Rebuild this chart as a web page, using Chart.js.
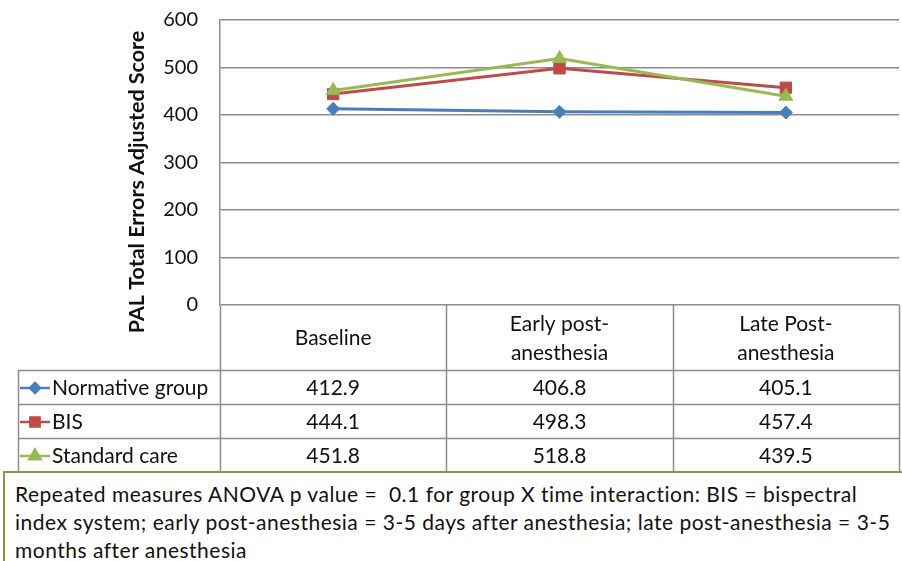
<!DOCTYPE html>
<html>
<head>
<meta charset="utf-8">
<script src="https://cdn.jsdelivr.net/npm/chart.js@4/dist/chart.umd.min.js"></script>
<style>
  html, body { margin: 0; padding: 0; background: #ffffff; }
  #wrap { position: relative; width: 902px; height: 561px; overflow: hidden; }
  #c { position: absolute; left: 0; top: 0; }
  #note {
    position: absolute; left: 3px; top: 471px; width: 940px; height: 120px;
    border: 2px solid #7f9a48; box-sizing: border-box;
    font-family: Lato, "Open Sans", sans-serif; font-size: 21px; line-height: 28px;
    letter-spacing: 0.5px;
    color: #111; padding: 7px 0 0 10px; white-space: pre; background: #fff;
  }
</style>
</head>
<body>
<div id="wrap">
  <canvas id="c" width="902" height="561"></canvas>
  <div id="note"></div>
</div>
<script>
// ---- data ----
const categories = [["Baseline"], ["Early post-", "anesthesia"], ["Late Post-", "anesthesia"]];
const seriesNames = ["Normative group", "BIS", "Standard care"];
const normative = [412.9, 406.8, 405.1];
const bis = [444.1, 498.3, 457.4];
const standardCare = [451.8, 518.8, 439.5];
const yTicks = [0, 100, 200, 300, 400, 500, 600];
const yTitle = "PAL Total Errors Adjusted Score";
const noteLines = [
  "Repeated measures ANOVA p value =  0.1 for group X time interaction: BIS = bispectral",
  "index system; early post-anesthesia = 3-5 days after anesthesia; late post-anesthesia = 3-5",
  "months after anesthesia"
];

document.getElementById('note').textContent = noteLines.join("\n");

const colors = ["#4a7ebb", "#be4b48", "#98b954"];
const shapes = ["rectRot", "rect", "triangle"];
const radii = [6.5, 8, 8];
const seriesValues = [normative, bis, standardCare];
const GRID = "#8c8c8c";
const FONT = "Lato, 'Open Sans', sans-serif";

const padLeft = 128;

const tablePlugin = {
  id: 'dataTable',
  afterDraw(chart) {
    const ctx = chart.ctx;
    const xs = chart.scales.x;
    const area = chart.chartArea;
    const n = categories.length;
    const centers = categories.map((_, i) => xs.getPixelForValue(i));
    const bounds = [area.left];
    for (let i = 0; i < n - 1; i++) bounds.push((centers[i] + centers[i + 1]) / 2);
    bounds.push(area.right);
    const top = area.bottom;
    const headerBottom = 370;
    const rowH = 34;
    const labelLeft = 18;
    const tableBottom = headerBottom + rowH * seriesNames.length;

    ctx.save();
    ctx.strokeStyle = GRID;
    ctx.lineWidth = 1.5;
    ctx.beginPath();
    for (let i = 0; i < bounds.length; i++) {
      const x = Math.round(bounds[i]) + 0.5;
      ctx.moveTo(x, top);
      ctx.lineTo(x, tableBottom);
    }
    ctx.moveTo(labelLeft + 0.5, headerBottom);
    ctx.lineTo(labelLeft + 0.5, tableBottom);
    for (let r = 0; r <= seriesNames.length; r++) {
      const y = headerBottom + r * rowH + 0.5;
      ctx.moveTo(labelLeft, y);
      ctx.lineTo(area.right, y);
    }
    ctx.stroke();

    ctx.fillStyle = "#111";
    ctx.font = "21px " + FONT;
    ctx.textAlign = "center";
    ctx.textBaseline = "middle";
    const headMid = (top + headerBottom) / 2 + 1;
    categories.forEach((lines, i) => {
      const lh = 29;
      const start = headMid - (lines.length - 1) * lh / 2;
      lines.forEach((t, k) => ctx.fillText(t, centers[i], start + k * lh));
    });

    seriesNames.forEach((name, r) => {
      const cy = headerBottom + r * rowH + rowH / 2 + 1;
      ctx.strokeStyle = colors[r];
      ctx.lineWidth = 2.5;
      ctx.beginPath();
      ctx.moveTo(20, cy);
      ctx.lineTo(50, cy);
      ctx.stroke();
      Chart.helpers.drawPoint(ctx, { pointStyle: shapes[r], radius: radii[r] - 1.5, borderWidth: 1 }, 35, cy);
      ctx.fillStyle = colors[r];
      ctx.fill();
      ctx.fillStyle = "#111";
      ctx.textAlign = "left";
      ctx.fillText(name, 52, cy);
      ctx.textAlign = "center";
      seriesValues[r].forEach((v, i) => ctx.fillText(v.toFixed(1), centers[i], cy));
    });

    ctx.save();
    ctx.translate(137, 182);
    ctx.rotate(-Math.PI / 2);
    ctx.font = "bold 21.5px " + FONT;
    ctx.fillStyle = "#111";
    ctx.textAlign = "center";
    ctx.textBaseline = "middle";
    ctx.fillText(yTitle, 0, 0);
    ctx.restore();
    ctx.restore();
  }
};

new Chart(document.getElementById('c'), {
  type: 'line',
  data: {
    labels: categories.map(c => c.join(" ")),
    datasets: seriesNames.map((name, i) => ({
      label: name,
      data: seriesValues[i],
      borderColor: colors[i],
      backgroundColor: colors[i],
      pointBackgroundColor: colors[i],
      pointBorderColor: colors[i],
      pointStyle: shapes[i],
      pointRadius: radii[i],
      pointBorderWidth: 1,
      borderWidth: 3,
      tension: 0,
      order: 3 - i
    }))
  },
  options: {
    responsive: false,
    animation: false,
    events: [],
    layout: { autoPadding: false, padding: { left: padLeft, right: 3, top: 20, bottom: 256 } },
    plugins: { legend: { display: false }, tooltip: { enabled: false } },
    scales: {
      x: {
        display: false,
        offset: true
      },
      y: {
        min: 0, max: 600,
        afterFit(s) { s.width = 220 - padLeft; s.paddingTop = 0; s.paddingBottom = 0; },
        afterBuildTicks(s) { s.ticks = yTicks.map(v => ({ value: v })); },
        ticks: { color: "#111", font: { family: FONT, size: 20 }, padding: 22 },
        grid: { color: GRID, lineWidth: 1.5, drawTicks: false },
        border: { color: GRID, width: 1.5 }
      }
    }
  },
  plugins: [tablePlugin]
});
</script>
</body>
</html>
